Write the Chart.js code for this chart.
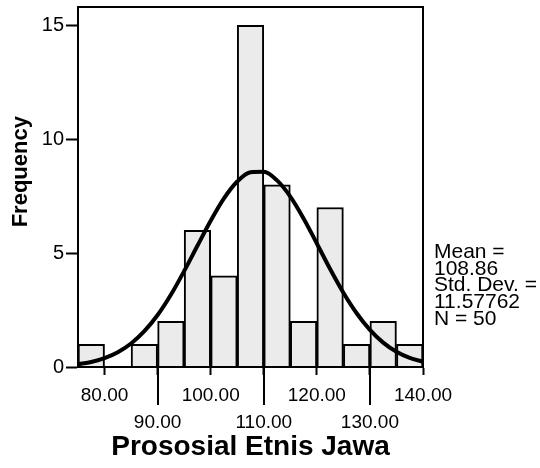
<!DOCTYPE html>
<html>
<head>
<meta charset="utf-8">
<script src="https://cdn.jsdelivr.net/npm/chart.js@4/dist/chart.umd.min.js"></script>
<style>
  body { margin: 0; background: #fff; }
</style>
</head>
<body>
<canvas id="histo" width="540" height="468"></canvas>
<script>
// bins of width 5 from 75 to 140
var binCenters = [77.5, 82.5, 87.5, 92.5, 97.5, 102.5, 107.5, 112.5, 117.5, 122.5, 127.5, 132.5, 137.5];
var frequencies = [1, 0, 1, 2, 6, 4, 15, 8, 2, 7, 1, 2, 1];

// normal curve
var curveX = [75, 77.5, 80, 82.5, 85, 87.5, 90, 92.5, 95, 97.5, 100, 102.5, 105, 107.5,
              110, 112.5, 115, 117.5, 120, 122.5, 125, 127.5, 130, 132.5, 135, 137.5, 140];
var curveY = [0.12, 0.22, 0.39, 0.65, 1.03, 1.57, 2.28, 3.17, 4.21, 5.32, 6.42, 7.40, 8.14, 8.55,
              8.57, 8.19, 7.48, 6.52, 5.42, 4.30, 3.26, 2.36, 1.63, 1.07, 0.67, 0.40, 0.23];

var xTicks = [80, 90, 100, 110, 120, 130, 140];
var yTicks = [0, 5, 10, 15];
var statsLines = ['Mean =', '108.86', 'Std. Dev. =', '11.57762', 'N = 50'];

var FONT = '"Liberation Sans", Arial, sans-serif';

var barData = binCenters.map(function(c, i) { return {x: c, y: frequencies[i]}; });
var lineData = curveX.map(function(v, i) { return {x: v, y: curveY[i]}; });

var extras = {
    id: 'extras',
    afterDraw: function(chart) {
        var ctx = chart.ctx, a = chart.chartArea, xs = chart.scales.x;
        ctx.save();
        ctx.strokeStyle = '#000';
        ctx.lineWidth = 2;
        ctx.strokeRect(a.left, a.top, a.right - a.left, a.bottom - a.top);
        // long ticks for the second row of labels
        xTicks.forEach(function(v, i) {
            if (i % 2 === 1) {
                var px = Math.round(xs.getPixelForValue(v));
                ctx.beginPath();
                ctx.moveTo(px, a.bottom);
                ctx.lineTo(px, a.bottom + 38);
                ctx.stroke();
            }
        });
        ctx.fillStyle = '#000';
        ctx.font = '21px ' + FONT;
        ctx.textBaseline = 'middle';
        ctx.textAlign = 'left';
        statsLines.forEach(function(s, i) {
            ctx.fillText(s, a.right + 11, a.bottom - 115 + i * 16.8);
        });
        ctx.restore();
    }
};

new Chart(document.getElementById('histo'), {
    data: {
        datasets: [
            {
                type: 'line',
                data: lineData,
                borderColor: '#000',
                borderWidth: 4,
                pointRadius: 0,
                tension: 0.4,
                cubicInterpolationMode: 'monotone',
                fill: false,
                order: 0
            },
            {
                type: 'bar',
                data: barData,
                backgroundColor: '#ebebeb',
                borderColor: '#000',
                borderWidth: 2,
                barPercentage: 1,
                categoryPercentage: 1,
                order: 1
            }
        ]
    },
    options: {
        responsive: false,
        animation: false,
        layout: { padding: { top: 7, right: 117, left: 0, bottom: 0 } },
        plugins: { legend: { display: false }, tooltip: { enabled: false } },
        scales: {
            x: {
                type: 'linear',
                offset: false,
                min: 75,
                max: 140,
                afterBuildTicks: function(s) {
                    s.ticks = xTicks.map(function(v) { return {value: v}; });
                },
                afterFit: function(s) {
                    s.height = 101;
                    s.paddingLeft = 0;
                    s.paddingRight = 0;
                },
                grid: { drawOnChartArea: false, offset: false, tickLength: 8, tickColor: '#000', tickWidth: 2 },
                border: { color: '#000', width: 2 },
                ticks: {
                    color: '#000',
                    padding: 7,
                    maxRotation: 0,
                    autoSkip: false,
                    font: { family: FONT, size: 19, lineHeight: 1.42 },
                    callback: function(v, i) {
                        var t = v.toFixed(2);
                        return i % 2 === 1 ? ['', t] : t;
                    }
                },
                title: {
                    display: true,
                    text: 'Prososial Etnis Jawa',
                    color: '#000',
                    font: { family: FONT, size: 28, weight: 'bold', lineHeight: 1.2 },
                    padding: { top: 0, bottom: 4 }
                }
            },
            y: {
                min: 0,
                max: 15.8,
                afterBuildTicks: function(s) {
                    s.ticks = yTicks.map(function(v) { return {value: v}; });
                },
                afterFit: function(s) {
                    s.width = 78;
                    s.paddingTop = 0;
                    s.paddingBottom = 0;
                },
                grid: { drawOnChartArea: false, tickLength: 12, tickColor: '#000', tickWidth: 2 },
                border: { color: '#000', width: 2 },
                ticks: {
                    color: '#000',
                    padding: 2,
                    font: { family: FONT, size: 20 }
                },
                title: {
                    display: true,
                    // leading spaces lift the label a little, as in the original
                    text: '     Frequency',
                    color: '#000',
                    font: { family: FONT, size: 22, weight: 'bold', lineHeight: 1.2 },
                    padding: { top: 8, bottom: 0 }
                }
            }
        }
    },
    plugins: [extras]
});
</script>
</body>
</html>
